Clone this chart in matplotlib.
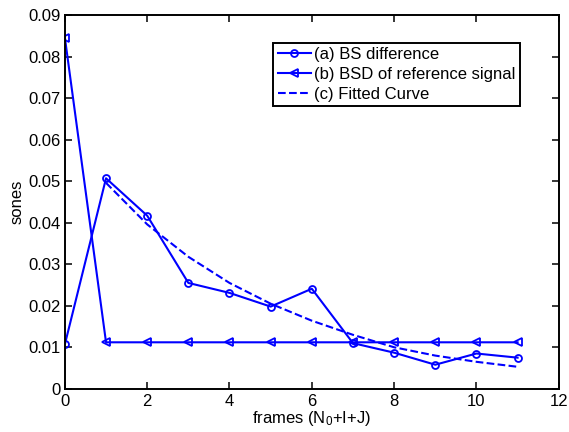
import numpy as np
import matplotlib
matplotlib.use('Agg')
import matplotlib.pyplot as plt
from matplotlib.ticker import FormatStrFormatter

plt.rcParams['font.family'] = ['Liberation Sans', 'DejaVu Sans']
plt.rcParams['font.size'] = 12
plt.rcParams['mathtext.default'] = 'regular'

# frame index
frames = [0, 1, 2, 3, 4, 5, 6, 7, 8, 9, 10, 11]

# (a) BS difference
bs_diff = [0.0107, 0.0507, 0.0417, 0.0255, 0.0231, 0.0198, 0.0241,
           0.0110, 0.0087, 0.0058, 0.0085, 0.0075]

# (b) BSD of reference signal
bsd_ref = [0.0846, 0.0112, 0.0112, 0.0112, 0.0112, 0.0112, 0.0112,
           0.0112, 0.0112, 0.0112, 0.0112, 0.0112]

# (c) fitted curve (frames 1..11)
fit_frames = [1, 2, 3, 4, 5, 6, 7, 8, 9, 10, 11]
fit_vals = [0.0496, 0.0396, 0.0318, 0.0255, 0.0205, 0.0164, 0.0130,
            0.0100, 0.0080, 0.0065, 0.0053]

fig = plt.figure(figsize=(5.69, 4.32), dpi=100)
ax = fig.add_axes([0.114, 0.100, 0.868, 0.865])

ax.plot(frames, bs_diff, '-o', color='blue', lw=1.5, ms=5,
        mfc='none', mew=1.3, label='(a) BS difference')
ax.plot(frames, bsd_ref, '-<', color='blue', lw=1.5, ms=6,
        mfc='none', mew=1.3, label='(b) BSD of reference signal')
ax.plot(fit_frames, fit_vals, '--', color='blue', lw=1.5,
        label='(c) Fitted Curve')

ax.set_xlim(0, 12)
ax.set_ylim(0, 0.09)
ax.set_xticks(np.arange(0, 13, 2))
ax.set_yticks(np.arange(0, 0.0901, 0.01))
ax.yaxis.set_major_formatter(FormatStrFormatter('%g'))
ax.tick_params(direction='in', top=True, right=True, length=5, width=1.1)
ax.tick_params(axis='y', pad=3)
ax.tick_params(axis='x', pad=4)
for s in ax.spines.values():
    s.set_linewidth(1.4)

ax.set_xlabel('frames (N$_0$+I+J)', labelpad=0)
ax.set_ylabel('sones', labelpad=3)

leg = ax.legend(loc='upper right', bbox_to_anchor=(0.921, 0.925),
                fancybox=False, edgecolor='black', framealpha=1,
                handlelength=2.0, labelspacing=0.3, borderpad=0.25,
                handletextpad=0.2, borderaxespad=0)
leg.get_frame().set_linewidth(1.4)

fig.savefig('out.png', dpi=100)
